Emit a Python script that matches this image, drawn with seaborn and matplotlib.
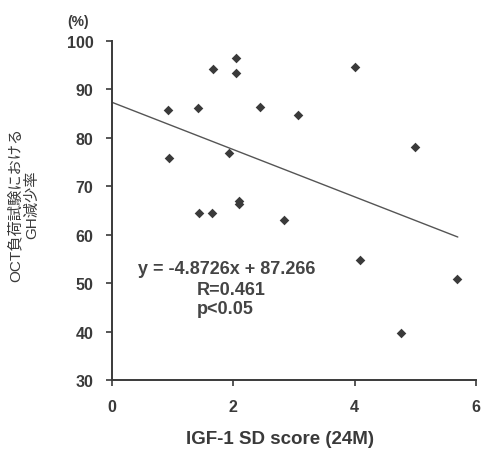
import numpy as np
import pandas as pd
import matplotlib
matplotlib.use("Agg")
import matplotlib.pyplot as plt
import seaborn as sns

# IGF-1 SD score at 24 months vs GH suppression rate in the OCT load test
igf1_sd = [0.93, 0.94, 1.41, 1.67, 2.05, 2.04, 1.93, 2.44, 3.07, 4.01, 4.99,
           1.44, 1.64, 2.09, 2.09, 2.84, 4.09, 5.68, 4.76]
gh_reduction = [85.7, 75.7, 86.0, 94.1, 96.4, 93.3, 76.8, 86.4, 84.7, 94.6, 78.0,
                64.4, 64.4, 67.0, 66.3, 63.1, 54.8, 50.8, 39.7]

# Fitted regression
slope = -4.8726
intercept = 87.266
fit_x = [0.0, 5.7]
r_value = "0.461"
p_text = "p<0.05"

x_ticks = [0, 2, 4, 6]
y_ticks = [30, 40, 50, 60, 70, 80, 90, 100]

sns.set_theme(style="white")
plt.rcParams["font.family"] = ["Liberation Sans", "Noto Sans CJK JP", "DejaVu Sans"]

ink = "#3a3a3a"
fig = plt.figure(figsize=(4.83, 4.52), dpi=100)
ax = fig.add_axes([0.232, 0.157, 0.7535, 0.751])

df = pd.DataFrame({"x": igf1_sd, "y": gh_reduction})
sns.scatterplot(data=df, x="x", y="y", marker="D", s=24, color=ink,
                edgecolor=ink, linewidth=0, ax=ax)

fit = pd.DataFrame({"x": fit_x, "y": [slope * v + intercept for v in fit_x]})
sns.lineplot(data=fit, x="x", y="y", color="#555555", linewidth=1.0, ax=ax)

ax.set_xlim(0, 6)
ax.set_ylim(30, 100)
ax.set_xticks(x_ticks)
ax.set_yticks(y_ticks)
ax.set_xticklabels([str(t) for t in x_ticks], fontsize=11.5, fontweight="bold", color=ink)
ax.set_yticklabels([str(t) for t in y_ticks], fontsize=11.5, fontweight="bold", color=ink)
ax.tick_params(axis="both", direction="out", length=4.5, width=1.2, color=ink,
               left=True, bottom=True)
ax.tick_params(axis="y", pad=9)
ax.tick_params(axis="x", pad=9)

for side in ("top", "right"):
    ax.spines[side].set_visible(False)
for side in ("left", "bottom"):
    ax.spines[side].set_color(ink)
    ax.spines[side].set_linewidth(1.4)

ax.set_xlabel("IGF-1 SD score (24M)", fontsize=13.5, fontweight="bold", color=ink)
ax.xaxis.set_label_coords(0.4615, -0.148)
ax.set_ylabel("OCT負荷試験における\nGH減少率", fontsize=11, color=ink, linespacing=1.2)
ax.yaxis.set_label_coords(-0.2, 0.52)

ax.text(-0.093, 1.057, "(%)", transform=ax.transAxes, fontsize=10, fontweight="bold",
        color=ink, ha="center", va="center")

eq = f"y = {slope}x + {intercept}"
txt = "#444444"
ax.text(0.43, 52.9, eq, fontsize=13, fontweight="bold", color=txt, va="center")
ax.text(1.39, 48.6, f"R={r_value}", fontsize=13, fontweight="bold", color=txt, va="center")
ax.text(1.39, 44.85, p_text, fontsize=13, fontweight="bold", color=txt, va="center")

fig.savefig("out.png", dpi=100, facecolor="white")
